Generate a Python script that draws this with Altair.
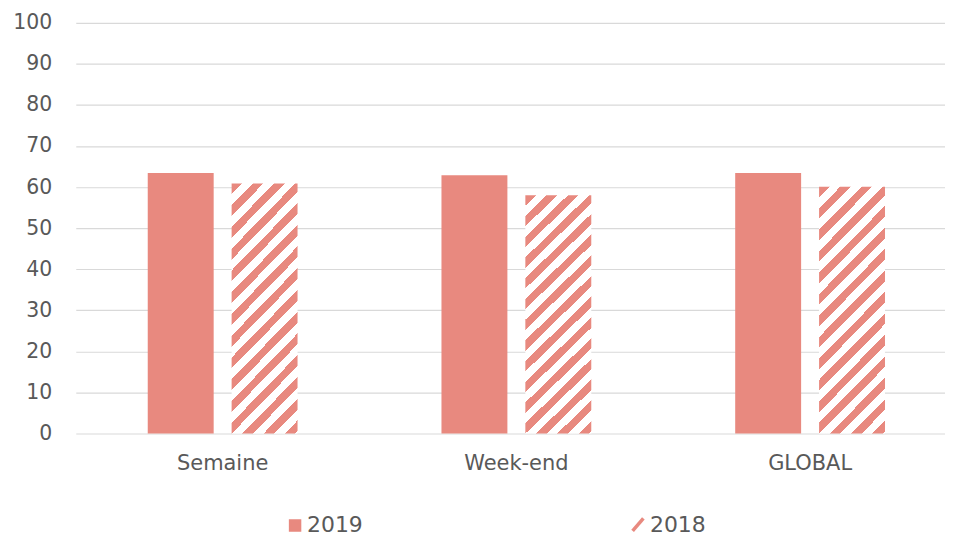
import altair as alt
import pandas as pd

categories = ["Semaine", "Week-end", "GLOBAL"]
years = ["2019", "2018"]
values_2019 = [63.4, 62.9, 63.4]
values_2018 = [60.9, 58.0, 60.1]

rows = []
for c, v in zip(categories, values_2019):
    rows.append({"categorie": c, "annee": "2019", "valeur": v})
for c, v in zip(categories, values_2018):
    rows.append({"categorie": c, "annee": "2018", "valeur": v})
df = pd.DataFrame(rows)

SALMON = "#E8897F"
TEXT = "#595959"
FONT = "DejaVu Sans"

# diagonal hatch built as a hard-stop linear gradient
r = 3.7
a = (1 + r) / (1 + r * r)
N = 14.6
stops = []
k = 0
while k / N < 1:
    s = k / N
    m = min((k + 0.5) / N, 1.0)
    e = min((k + 1) / N, 1.0)
    stops += [(s, SALMON), (m, SALMON), (m, "#FFFFFF"), (e, "#FFFFFF")]
    k += 1
hatch = alt.Gradient(
    gradient="linear", x1=0, y1=0, x2=a, y2=a * r,
    stops=[alt.GradientStop(offset=o, color=c) for o, c in stops],
)

x_enc = alt.X(
    "categorie:N", sort=categories,
    scale=alt.Scale(range=[0, 884], paddingInner=0.49, paddingOuter=0.245),
    axis=alt.Axis(title=None, labelAngle=0, domain=False, ticks=False, grid=False,
                  labelFontSize=21, labelColor=TEXT, labelFont=FONT, labelPadding=19),
)
xoff_enc = alt.XOffset(
    "annee:N", sort=years,
    scale=alt.Scale(domain=years, paddingInner=0.214, paddingOuter=0),
)
y_enc = alt.Y(
    "valeur:Q", scale=alt.Scale(domain=[0, 100]),
    axis=alt.Axis(title=None, values=list(range(0, 101, 10)), domain=False, ticks=False,
                  labelFontSize=20.5, labelColor=TEXT, labelFont=FONT, labelPadding=24,
                  gridColor="#D9D9D9", gridWidth=1.2),
)

legend = alt.Legend(
    title=None, orient="none", legendX=209, legendY=492, direction="horizontal",
    symbolSize=144, labelFontSize=22, labelColor=TEXT,
    labelFont=FONT, columnPadding=263, labelOffset=1, padding=0,
    symbolStrokeColor=SALMON, symbolStrokeWidth=3.5, symbolOpacity=1,
)

base = alt.Chart(df)

bars2019 = base.transform_filter("datum.annee == '2019'").mark_bar(color=SALMON).encode(
    x=x_enc, xOffset=xoff_enc, y=y_enc,
)

bars2018 = base.transform_filter("datum.annee == '2018'").mark_bar(fill=hatch).encode(
    x=x_enc, xOffset=xoff_enc, y=y_enc,
)

square_path = ("M-0.75,-0.75L0.75,-0.75L0.75,0.75L-0.75,0.75Z "
               "M-0.75,-0.4L0.75,-0.4 M-0.75,0L0.75,0 M-0.75,0.4L0.75,0.4")
slash_path = "M-0.9,1.05L0.9,-1.05"

legend_layer = base.transform_filter("false").mark_point(
    filled=False, color=SALMON, strokeWidth=3.5, opacity=1
).encode(
    x=x_enc, y=y_enc,
    shape=alt.Shape("annee:N", sort=years, scale=alt.Scale(
        domain=years, range=[square_path, slash_path]),
        legend=legend),
)

chart = alt.layer(bars2019, bars2018, legend_layer).properties(
    width=872, height=412,
    autosize=alt.AutoSizeParams(type="none"),
    padding={"left": 68, "top": 14, "right": 0, "bottom": 102},
).configure(font=FONT).configure_view(stroke=None)

chart.save("out.html", embed_options={"renderer": "svg", "actions": False})
